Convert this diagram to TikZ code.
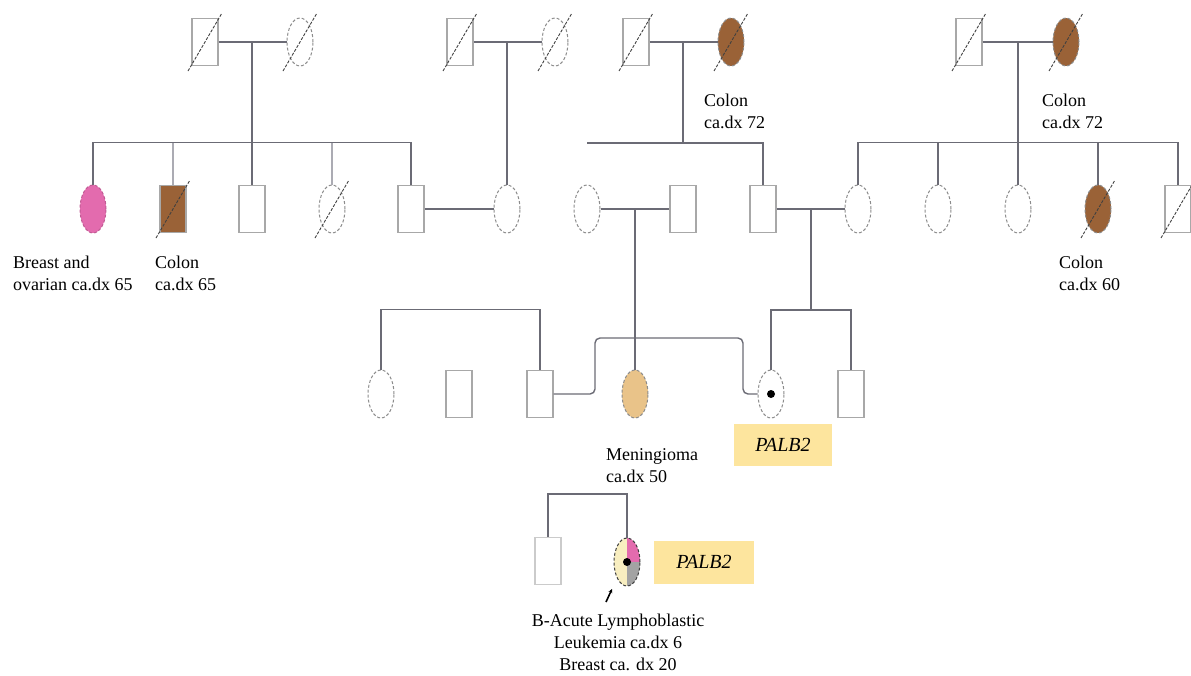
\documentclass[tikz,border=0pt]{standalone}
\usepackage{fontspec}
\setmainfont{Liberation Serif}
\usetikzlibrary{shapes.geometric,arrows.meta}
\definecolor{linkc}{HTML}{6B6B75}
\definecolor{lightlink}{HTML}{ABABB3}
\definecolor{sqc}{HTML}{A8A8A8}
\definecolor{ellc}{HTML}{8C8C8C}
\definecolor{slashc}{HTML}{404040}
\definecolor{brownfill}{HTML}{9A6237}
\definecolor{pinkfill}{HTML}{E36BAE}
\definecolor{tanfill}{HTML}{E9C389}
\definecolor{creamfill}{HTML}{F8EEC0}
\definecolor{grayfill}{HTML}{A3A3A3}
\definecolor{genefill}{HTML}{FDE59E}
\newcommand\deceased[1]{\draw[slashline] ([shift={(-17,29)}]#1.center) -- ([shift={(17,-29)}]#1.center);}
\begin{document}
\begin{tikzpicture}[x=1pt,y=-1pt,
  male/.style={rectangle, draw=sqc, line width=1.1pt, minimum width=26pt, minimum height=47pt, inner sep=0pt},
  female/.style={ellipse, draw=ellc, line width=1pt, dash pattern=on 3pt off 2pt, minimum width=26pt, minimum height=48pt, inner sep=0pt},
  link/.style={draw=linkc, line width=1.4pt},
  thinlink/.style={draw=lightlink, line width=1.2pt},
  slashline/.style={draw=slashc, line width=0.9pt, dash pattern=on 3pt off 1.5pt},
  lbl/.style={inner sep=0pt, font=\fontsize{18}{22}\selectfont},
  genebox/.style={fill=genefill, minimum width=98pt, minimum height=42pt, inner sep=0pt, font=\fontsize{20}{24}\selectfont\itshape}]
\useasboundingbox (0,0) rectangle (1191,675);

% Generation I
\node[male] (g1a) at (205,42) {};
\node[female] (g1b) at (300,42) {};
\node[male] (g1c) at (460,42) {};
\node[female] (g1d) at (555,42) {};
\node[male] (g1e) at (636,42) {};
\node[female, fill=brownfill] (g1f) at (731,42) {};
\node[male] (g1g) at (969,42) {};
\node[female, fill=brownfill] (g1h) at (1066,42) {};

% Generation II
\node[female, fill=pinkfill, draw=pinkfill!85!black] (g2a) at (93,209) {};
\node[male, fill=brownfill] (g2b) at (173,209) {};
\node[male] (g2c) at (252,209) {};
\node[female] (g2d) at (332,209) {};
\node[male] (g2e) at (411,209) {};
\node[female] (g2f) at (507,209) {};
\node[female] (g2g) at (587,209) {};
\node[male] (g2h) at (683,209) {};
\node[male] (g2i) at (763,209) {};
\node[female] (g2j) at (858,209) {};
\node[female] (g2k) at (938,209) {};
\node[female] (g2l) at (1018,209) {};
\node[female, fill=brownfill] (g2m) at (1098,209) {};
\node[male] (g2n) at (1178,209) {};

% Generation III
\node[female] (g3a) at (381,394) {};
\node[male] (g3b) at (459,394) {};
\node[male] (g3c) at (540,394) {};
\node[female, fill=tanfill] (g3d) at (635,394) {};
\node[female, fill=white] (g3e) at (771,394) {};
\node[male] (g3f) at (851,394) {};

% Generation IV
\node[male, draw=sqc!60] (g4a) at (548,561) {};
\node[female, path picture={
    \fill[creamfill] (path picture bounding box.south west) rectangle (path picture bounding box.north);
    \fill[pinkfill] (path picture bounding box.center) rectangle (path picture bounding box.north east);
    \fill[grayfill] (path picture bounding box.center) rectangle (path picture bounding box.south east);
  }, draw=slashc] (g4b) at (627,562) {};

% deceased marks
\deceased{g1a} \deceased{g1b} \deceased{g1c} \deceased{g1d}
\deceased{g1e} \deceased{g1f} \deceased{g1g} \deceased{g1h}
\deceased{g2b} \deceased{g2d} \deceased{g2m} \deceased{g2n}

% carrier dots
\fill (g3e.center) circle (4pt);
\fill (g4b.center) circle (4pt);

% couple I-a / I-b and their children
\draw[link] (g1a.east) -- (g1b.west);
\draw[link] (g1a.east -| g2c.north) -- (g2c.north);
\draw[link] (g2a.north) -- ++(0,-42) -| (g2e.north);
\draw[thinlink] (g2b.north) -- ++(0,-42);
\draw[thinlink] (g2d.north) -- ++(0,-42);
\draw[link] (g2e.east) -- (g2f.west);

% couple I-c / I-d
\draw[link] (g1c.east) -- (g1d.west);
\draw[link] (g1c.east -| g2f.north) -- (g2f.north);

% couple I-e / I-f
\coordinate (sibC) at (683,143);
\draw[link] (g1e.east) -- (g1f.west);
\draw[link] (g1e.east -| sibC) -- (sibC);
\draw[link] (sibC -| g2g) -- (sibC -| g2i) -- (g2i.north);

% couple I-g / I-h
\draw[link] (g1g.east) -- (g1h.west);
\draw[link] (g1g.east -| g2l.north) -- (g2l.north);
\draw[link] (g2j.north) -- ++(0,-42) -| (g2n.north);
\draw[link] (g2k.north) -- ++(0,-42);
\draw[link] (g2m.north) -- ++(0,-42);

% generation II couples
\draw[link] (g2g.east) -- (g2h.west);
\draw[link] (g2g.east -| g3d.north) -- (g3d.north);
\coordinate (sibF) at (811,310);
\draw[link] (g2i.east) -- (g2j.west);
\draw[link] (g2i.east -| sibF) -- (sibF);
\draw[link] (g3e.north) -- (g3e.north |- sibF) -- (g3f.north |- sibF) -- (g3f.north);

% sibship of generation III (left)
\draw[link] (g3a.north) -- ++(0,-60) -| (g3c.north);

% marriage line passing over g3d
\coordinate (brL) at (595,338);
\coordinate (brR) at (743,338);
\draw[link, rounded corners=5pt] (g3c.east) -| (brL) -- (brR) |- (g3e.west);

% generation IV sibship
\draw[link] (g4a.north) -- ++(0,-43) -| (g4b.north);

% proband arrow
\draw[draw=black, line width=1.6pt, -{Stealth[length=4pt,width=4pt]}] ([shift={(-21,40)}]g4b.center) -- ([shift={(-15,27)}]g4b.center);

% gene labels
\node[genebox] (gene1) at (783,445) {PALB2};
\node[genebox, minimum width=100pt, minimum height=43pt] (gene2) at (704,562) {PALB2};

% diagnoses (anchored at the baseline of the last line)
\node[lbl, anchor=base west, align=left] (t1) at (13,290) {Breast and\\ovarian ca.dx 65};
\node[lbl, anchor=base west, align=left] (t2) at (155,290) {Colon\\ca.dx 65};
\node[lbl, anchor=base west, align=left] (t3) at (704,128) {Colon\\ca.dx 72};
\node[lbl, anchor=base west, align=left] (t4) at (1042,128) {Colon\\ca.dx 72};
\node[lbl, anchor=base west, align=left] (t5) at (1059,290) {Colon\\ca.dx 60};
\node[lbl, anchor=base west, align=left] (t6) at (606,482) {Meningioma\\ca.dx 50};
\node[lbl, anchor=base, align=center] (t7) at (618,670) {B-Acute Lymphoblastic\\Leukemia ca.dx 6\\Breast ca. dx 20};
\end{tikzpicture}
\end{document}
